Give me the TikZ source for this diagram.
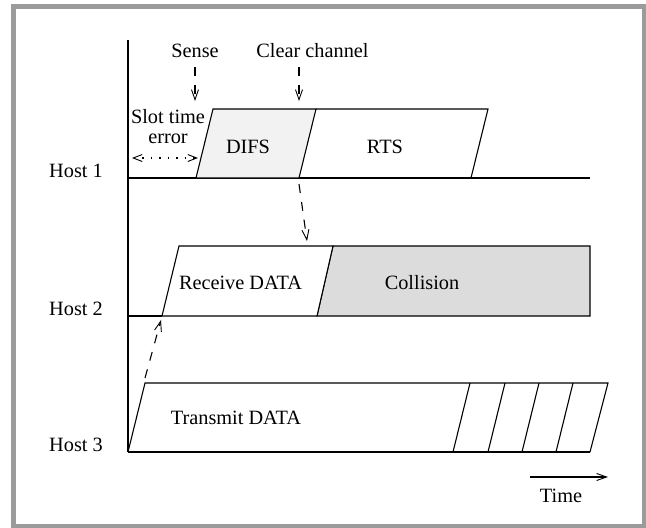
\documentclass[tikz,border=0pt]{standalone}
\usepackage{fontspec}
\setmainfont{Liberation Serif}
\usetikzlibrary{arrows.meta}
\definecolor{framegray}{RGB}{155,155,155}
\definecolor{difsfill}{RGB}{242,242,242}
\definecolor{collfill}{RGB}{220,220,220}
\begin{document}
\begin{tikzpicture}[x=1pt,y=-1pt,
  lbl/.style={anchor=base,inner sep=0pt,font=\fontsize{20.3}{23}\selectfont},
  ln/.style={line width=1.1pt,line join=miter},
  tip/.style={-{Straight Barb[length=10pt,width=7pt,line width=0.9pt]}},
  dasharrow/.style={ln,tip,dash pattern=on 9pt off 9pt},
  dotarrow/.style={ln,{Straight Barb[length=9pt,width=7pt,line width=0.9pt]}-{Straight Barb[length=9pt,width=7pt,line width=0.9pt]},dash pattern=on 1.5pt off 7pt}
]
\useasboundingbox (0,0) rectangle (646,528);
\draw[framegray,line width=5pt] (13.5,6.5) rectangle (644,526.5);

% coordinates
\coordinate (ax0) at (128,40);
\coordinate (ax1) at (128,452);
\coordinate (h1s) at (128,178);
\coordinate (h1e) at (590,178);
\coordinate (h2s) at (128,316);
\coordinate (h3e) at (590,452);

% axis and base lines
\draw[ln] (ax0) -- (ax1);
\draw[ln] (h1s) -- (h1e);
\draw[ln] (h2s) -- (162,316);
\draw[ln] (ax1) -- (h3e);

% Host 1 boxes
\coordinate (difsBL) at (196,178);
\coordinate (difsBR) at (299,178);
\draw[ln,fill=difsfill] (difsBL) -- (213,109) -- (316,109) -- (difsBR) -- cycle;
\draw[ln] (316,109) -- (488,109) -- (471,178);

% Host 2 boxes
\coordinate (rcvBL) at (162,316);
\draw[ln,fill=collfill] (317,316) -- (333,246) -- (590,246) -- (590,316) -- cycle;
\draw[ln,fill=white] (rcvBL) -- (179,246) -- (333,246) -- (317,316) -- cycle;

% Host 3 box
\coordinate (txTL) at (145,383);
\draw[ln] (128,452) -- (txTL) -- (608,383) -- (590,452);
\foreach \b in {453,488,522,556} {
  \draw[ln] (\b,452) -- (\b+17,383);
}

% labels
\node[lbl] (host1) at (76,177) {Host 1};
\node[lbl] (host2) at (76,315) {Host 2};
\node[lbl] (host3) at (76,451) {Host 3};
\node[lbl] (sense) at (195,57) {Sense};
\node[lbl] (clear) at (312.5,57) {Clear channel};
\node[lbl] (slot) at (168,123) {Slot time};
\node[lbl] (err) at (168,143) {error};
\node[lbl] (difs) at (248,153) {DIFS};
\node[lbl] (rts) at (385,153) {RTS};
\node[lbl] (rcv) at (240.5,289) {Receive DATA};
\node[lbl] (coll) at (422,289) {Collision};
\node[lbl] (tx) at (236,424) {Transmit DATA};
\node[lbl] (time) at (561,502) {Time};

% arrows
\coordinate (senseA) at (195,67);
\coordinate (senseB) at (195,101);
\coordinate (clearA) at (299,67);
\coordinate (clearB) at (299,101);
\draw[dasharrow] (senseA) -- (senseB);
\draw[dasharrow] (clearA) -- (clearB);
\coordinate (slotA) at (132,158);
\coordinate (slotB) at (198,158);
\draw[dotarrow] (slotA) -- (slotB);
\coordinate (h12A) at (299,184);
\coordinate (h12B) at (307,241);
\draw[dasharrow] (h12A) -- (h12B);
\coordinate (h32A) at (145,378);
\coordinate (h32B) at (161,320);
\draw[dasharrow] (h32A) -- (h32B);
\coordinate (timeA) at (530,477);
\coordinate (timeB) at (608,477);
\draw[ln,tip] (timeA) -- (timeB);
\end{tikzpicture}
\end{document}
